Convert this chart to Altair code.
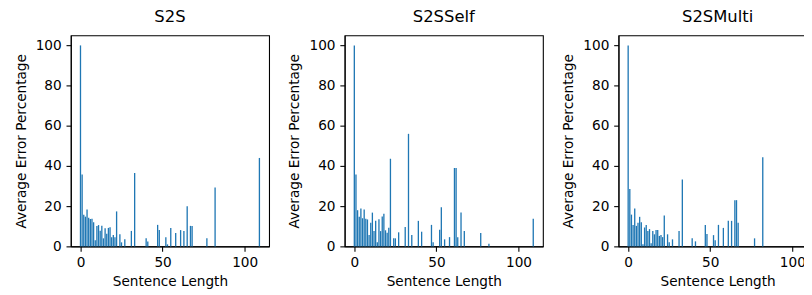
import altair as alt
import pandas as pd

titles = ["S2S", "S2SSelf", "S2SMulti"]

s2s_len = [0, 1, 2, 3, 4, 5, 6, 7, 8, 9, 10, 11, 12, 13, 14, 15, 16, 17, 18, 19, 20, 21, 22,
           24, 25, 27, 31, 33, 40, 41, 47, 48, 52, 53, 55, 58, 61, 63, 65, 67, 68, 77, 82, 109]
s2s_err = [100, 35.8, 15.8, 14.8, 18.4, 14.3, 13.6, 13.7, 12.0, 3.0, 10.2, 10.6, 7.8, 10.3, 4.0,
           9.0, 6.3, 9.2, 9.5, 4.5, 5.6, 4.5, 17.4,
           6.0, 2.0, 3.5, 7.7, 36.5, 4.1, 2.4, 10.7, 8.2, 4.6, 1.0, 9.2, 6.7, 8.1, 7.6, 20.0,
           10.2, 10.2, 4.1, 29.3, 44.0]

self_len = [0, 1, 2, 3, 4, 5, 6, 7, 8, 9, 10, 11, 12, 13, 14, 15, 16, 17, 18, 19, 20, 21, 22,
            24, 25, 27, 31, 33, 35, 39, 41, 47, 48, 52, 53, 55, 58, 61, 62, 63, 65, 67, 77, 82, 109]
self_err = [100, 35.8, 18.0, 14.8, 18.9, 14.0, 18.4, 13.7, 13.4, 5.7, 11.7, 16.8, 7.6, 12.7, 2.0,
            13.5, 7.6, 14.9, 16.2, 8.0, 6.8, 9.3, 43.6,
            4.0, 4.0, 7.0, 9.7, 56.0, 5.7, 12.7, 7.3, 10.7, 2.0, 8.3, 19.5, 3.5, 4.6, 39.0, 39.0,
            4.6, 16.8, 7.6, 6.6, 1.3, 13.8]

multi_len = [0, 1, 2, 3, 4, 5, 6, 7, 8, 9, 10, 11, 12, 13, 14, 15, 16, 17, 18, 19, 20, 21, 22,
             24, 25, 27, 31, 33, 39, 41, 47, 48, 52, 53, 55, 58, 61, 63, 65, 66, 67, 77, 82, 109]
multi_err = [100, 28.6, 15.8, 10.7, 18.8, 10.2, 11.8, 14.7, 12.0, 1.0, 9.4, 10.6, 7.6, 8.6, 1.5,
             7.6, 6.0, 8.1, 8.2, 5.2, 5.7, 4.6, 15.4,
             6.0, 2.0, 3.5, 7.7, 33.3, 4.0, 2.5, 10.7, 6.1, 5.6, 3.0, 10.7, 9.2, 12.7, 12.7, 23.0,
             23.0, 11.7, 4.0, 44.4, 28.0]

x_ticks = [0, 50, 100]
y_ticks = [0, 20, 40, 60, 80, 100]

FONT = "DejaVu Sans"


def panel(title, lens, errs):
    df = pd.DataFrame({"len": lens, "err": errs})
    return (
        alt.Chart(
            df,
            title=alt.TitleParams(
                title, fontSize=16.7, font=FONT, fontWeight="normal", color="black",
                baseline="alphabetic", offset=-3.4, frame="group", anchor="middle",
            ),
        )
        .transform_calculate(x0="datum.len - 0.4", x1="datum.len + 0.4")
        .mark_bar(color="#1f77b4", strokeWidth=0)
        .encode(
            x=alt.X(
                "x0:Q",
                scale=alt.Scale(domain=[-5.89, 114.89], nice=False, zero=False, padding=0),
                axis=alt.Axis(values=x_ticks, title="Sentence Length", titlePadding=5),
            ),
            x2="x1:Q",
            y=alt.Y(
                "err:Q",
                scale=alt.Scale(domain=[0, 105], nice=False, padding=0),
                axis=alt.Axis(values=y_ticks, title="Average Error Percentage", titlePadding=7.3),
            ),
            y2=alt.datum(0),
        )
        .properties(width=202, height=215)
    )


chart = (
    alt.hconcat(
        panel(titles[0], s2s_len, s2s_err),
        panel(titles[1], self_len, self_err),
        panel(titles[2], multi_len, multi_err),
        spacing=17,
    )
    .properties(padding={"left": 5, "top": -1.8, "right": -14, "bottom": 0})
    .configure_view(stroke="black", strokeWidth=1.1)
    .configure_axis(
        labelFont=FONT, titleFont=FONT, labelFontSize=13.9, titleFontSize=13.9,
        titleFontWeight="normal", labelColor="black", titleColor="black",
        tickColor="black", tickSize=4.9, tickWidth=1.1, domainColor="black",
        domainWidth=1.1, grid=False, labelPadding=4.9, labelFlush=False,
    )
)

chart.save("out.html", embed_options={"renderer": "svg", "actions": False})
